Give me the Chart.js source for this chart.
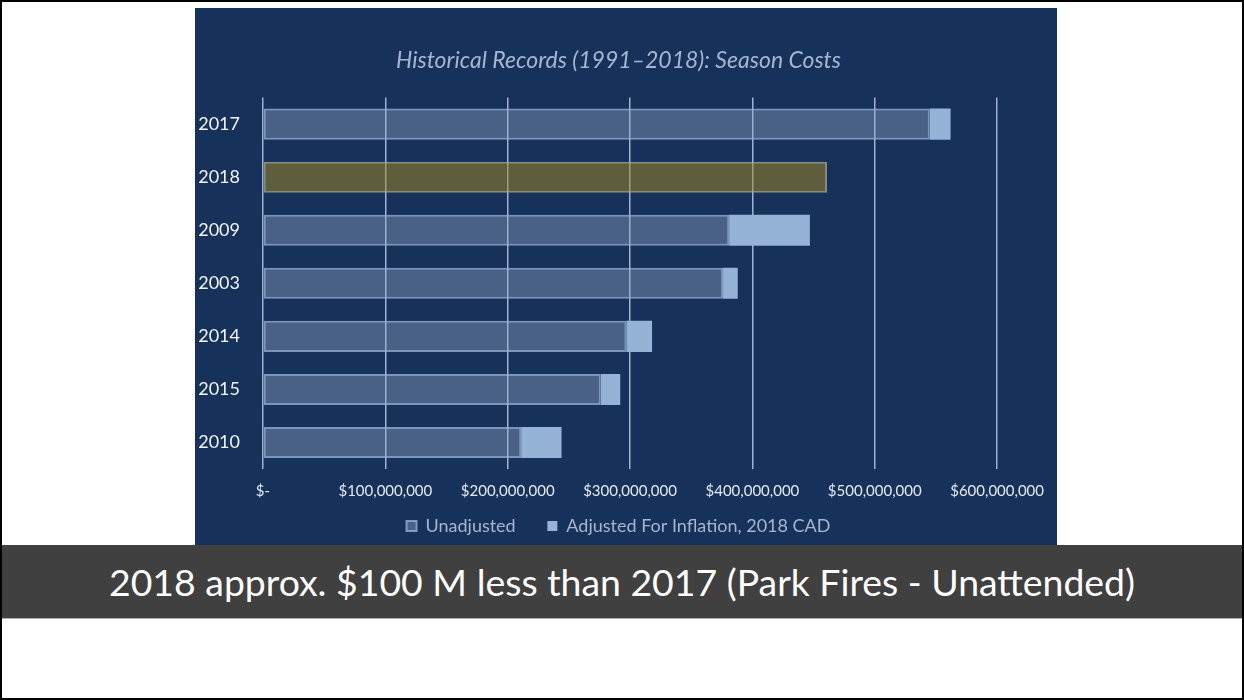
<!DOCTYPE html>
<html>
<head>
<meta charset="utf-8">
<title>Season Costs</title>
<script src="https://cdn.jsdelivr.net/npm/chart.js@4/dist/chart.umd.min.js"></script>
<style>
  html, body { margin: 0; padding: 0; background: #fff; }
  body { width: 1244px; height: 700px; position: relative; overflow: hidden; font-family: Lato, sans-serif; }
  #frame { position: absolute; left: 0; top: 0; width: 1240px; height: 696px; border: 2px solid #000; }
  #panel { position: absolute; left: 195px; top: 8px; width: 862px; height: 537px; background: #16315a; }
  #banner {
    position: absolute; left: 2px; top: 545px; width: 1240px; height: 73px;
    background: #404040; border-bottom: 1px solid #b0b0b0;
    color: #fff; font-size: 37.4px; line-height: 73px; text-align: center;
  }
</style>
</head>
<body>
<div id="frame"></div>
<div id="panel"><canvas id="chart-costs"></canvas></div>
<div id="banner">2018 approx. $100 M less than 2017 (Park Fires - Unattended)</div>
<script>
(function () {
  const years = ["2017", "2018", "2009", "2003", "2014", "2015", "2010"];
  const unadjusted = [545e6, 461e6, 381e6, 376e6, 297e6, 276e6, 211e6];
  const adjusted = [562e6, 461e6, 447e6, 388e6, 318e6, 292e6, 244e6];
  const tickLabels = ["$-", "$100,000,000", "$200,000,000", "$300,000,000",
    "$400,000,000", "$500,000,000", "$600,000,000"];
  const highlightYear = "2018";

  const gridColor = "#9fb3d1";
  const textSoft = "#a6b6d1";

  // the adjusted bar only shows where it goes past the unadjusted one
  const adjustedRange = adjusted.map(function (v, i) { return [unadjusted[i], v]; });

  function isHighlight(ctx) {
    return ctx.dataIndex !== undefined && years[ctx.dataIndex] === highlightYear;
  }

  new Chart(document.getElementById("chart-costs"), {
    type: "bar",
    data: {
      labels: years,
      datasets: [
        {
          label: "Unadjusted",
          data: unadjusted,
          grouped: false,
          backgroundColor: function (ctx) {
            return isHighlight(ctx) ? "rgba(166, 138, 29, 0.5)" : "rgba(150, 170, 200, 0.4)";
          },
          borderColor: function (ctx) {
            return isHighlight(ctx) ? "rgba(175, 170, 130, 0.75)" : "rgba(150, 175, 210, 0.8)";
          },
          borderWidth: 2,
          borderSkipped: false
        },
        {
          label: "Adjusted For Inflation, 2018 CAD",
          data: adjustedRange,
          grouped: false,
          backgroundColor: "#95b3d7",
          borderWidth: 0
        }
      ]
    },
    options: {
      indexAxis: "y",
      responsive: true,
      maintainAspectRatio: false,
      animation: false,
      categoryPercentage: 1,
      barPercentage: 0.585,
      layout: { padding: { top: 0, left: 0, right: 15, bottom: 0 } },
      plugins: {
        title: {
          display: true,
          text: "Historical Records (1991\u20132018): Season Costs",
          color: textSoft,
          font: { family: "Lato", size: 23, style: "italic", weight: "normal" },
          padding: { top: 39, bottom: 23 }
        },
        legend: {
          position: "bottom",
          labels: {
            color: textSoft,
            font: { family: "Lato", size: 18 },
            boxWidth: 10,
            boxHeight: 10,
            padding: 4,
            generateLabels: function (chart) {
              const items = Chart.defaults.plugins.legend.labels.generateLabels(chart);
              // wider gap between the two entries, as in the original
              items[0].text = items[0].text + "      ";
              return items;
            }
          }
        },
        tooltip: { enabled: false }
      },
      scales: {
        x: {
          min: 0,
          max: 6e8,
          ticks: {
            stepSize: 1e8,
            color: "#e4e9f1",
            font: { family: "Lato", size: 15 },
            padding: 13,
            maxRotation: 0,
            callback: function (value, index) { return tickLabels[index]; }
          },
          grid: { color: gridColor, lineWidth: 1.5, drawTicks: false },
          border: { display: false }
        },
        y: {
          ticks: {
            color: "#f2f4f8",
            font: { family: "Lato", size: 18 },
            padding: 23
          },
          grid: { display: false, drawTicks: false },
          border: { display: false },
          afterFit: function (scale) { scale.width = 68; }
        }
      }
    }
  });
})();
</script>
</body>
</html>
